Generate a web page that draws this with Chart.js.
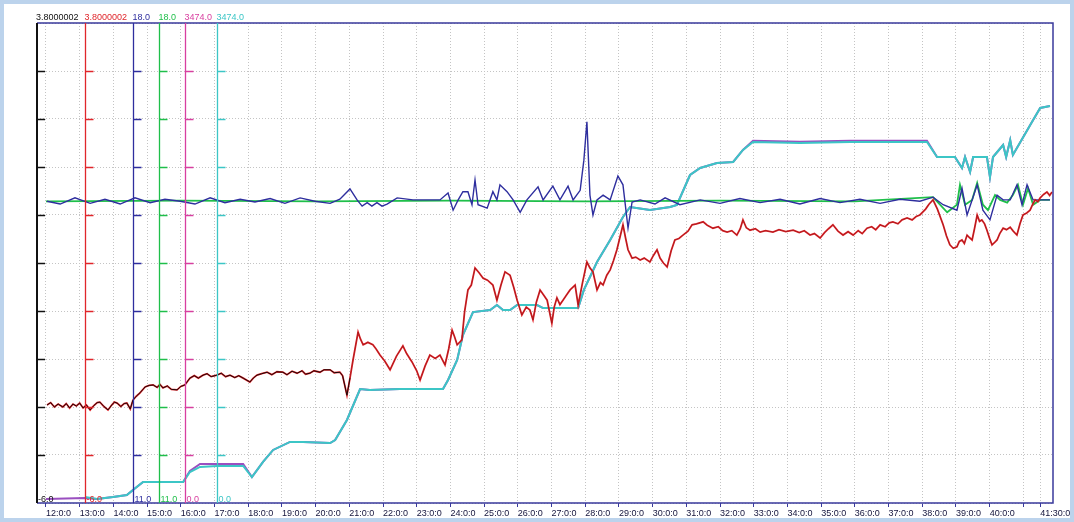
<!DOCTYPE html>
<html>
<head>
<meta charset="utf-8">
<script src="https://cdn.jsdelivr.net/npm/chart.js"></script>
<style>
html, body { margin: 0; padding: 0; background: #fff; }
#keret { position: relative; width: 1074px; height: 522px; }
</style>
</head>
<body>
<div id="keret"><canvas id="grafikon"></canvas></div>
<script>
// idő tengely: percek és a feliratok
var idoTick = [12,13,14,15,16,17,18,19,20,21,22,23,24,25,26,27,28,29,30,31,32,33,34,35,36,37,38,39,40,41,41.5];
var idoFelirat = ['12:0:0','13:0:0','14:0:0','15:0:0','16:0:0','17:0:0','18:0:0','19:0:0','20:0:0','21:0:0',
    '22:0:0','23:0:0','24:0:0','25:0:0','26:0:0','27:0:0','28:0:0','29:0:0','30:0:0','31:0:0',
    '32:0:0','33:0:0','34:0:0','35:0:0','36:0:0','37:0:0','38:0:0','39:0:0','40:0:0','','41:30:0'];

// tengelyek feliratai (felső / alsó érték)
var tengelyFelso = ['3.8000002','3.8000002','18.0','18.0','3474.0','3474.0'];
var tengelyAlso = ['-6.0','-6.0','11.0','11.0','0.0','0.0'];
var tengelyMin = [-6, -6, 11, 11, 0, 0];
var tengelyMax = [3.8000002, 3.8000002, 18, 18, 3474, 3474];

// fekete + piros görbe (ugyanaz a jel)
var homPerc = [12.03,12.14,12.25,12.36,12.50,12.60,12.70,12.80,12.90,13.00,
    13.10,13.20,13.31,13.42,13.52,13.60,13.72,13.84,13.95,14.03,
    14.11,14.22,14.32,14.40,14.50,14.58,14.68,14.79,14.94,15.06,
    15.18,15.30,15.38,15.47,15.60,15.72,15.89,16.00,16.12,16.27,
    16.40,16.52,16.66,16.78,16.90,17.07,17.20,17.33,17.46,17.60,
    17.72,17.85,18.05,18.15,18.26,18.40,18.56,18.70,18.85,19.03,
    19.15,19.30,19.45,19.60,19.70,19.83,19.95,20.13,20.25,20.43,
    20.55,20.72,20.80,20.93,21.02,21.11,21.26,21.33,21.41,21.55,
    21.70,21.80,21.91,22.05,22.21,22.40,22.59,22.70,22.86,23.00,
    23.10,23.25,23.39,23.55,23.69,23.84,23.95,24.05,24.12,24.20,
    24.34,24.42,24.52,24.62,24.73,24.85,24.97,25.10,25.26,25.38,
    25.50,25.62,25.77,25.88,25.98,26.12,26.25,26.36,26.45,26.55,
    26.66,26.76,26.87,27.01,27.08,27.16,27.25,27.34,27.45,27.55,
    27.70,27.79,27.92,28.05,28.14,28.23,28.35,28.45,28.53,28.64,
    28.74,28.84,28.94,29.04,29.12,29.20,29.27,29.39,29.50,29.63,
    29.75,29.92,30.02,30.13,30.22,30.32,30.43,30.55,30.66,30.78,
    30.90,31.05,31.17,31.30,31.50,31.62,31.79,31.95,32.08,32.21,
    32.35,32.50,32.60,32.68,32.78,32.89,33.05,33.19,33.35,33.57,
    33.75,33.95,34.17,34.35,34.50,34.67,34.80,34.97,35.10,35.22,
    35.35,35.50,35.65,35.80,35.95,36.10,36.22,36.36,36.50,36.62,
    36.75,36.90,37.02,37.13,37.28,37.40,37.55,37.70,37.82,37.93,
    38.10,38.20,38.32,38.45,38.62,38.72,38.82,38.92,39.03,39.10,
    39.18,39.25,39.33,39.40,39.48,39.55,39.63,39.70,39.77,39.85,
    39.92,40.00,40.07,40.15,40.22,40.30,40.40,40.50,40.61,40.70,
    40.81,40.90,40.99,41.10,41.20,41.28,41.35,41.43,41.50,41.60,
    41.70,41.78,41.85];
var homErtek = [-4.00,-3.95,-4.04,-3.98,-4.04,-3.97,-4.06,-3.98,-4.02,-3.96,
    -4.06,-4.00,-4.10,-4.01,-3.95,-3.94,-4.03,-4.10,-4.00,-3.94,
    -3.96,-4.03,-3.97,-3.96,-4.08,-3.90,-3.82,-3.75,-3.63,-3.60,
    -3.59,-3.64,-3.58,-3.65,-3.61,-3.68,-3.69,-3.62,-3.59,-3.45,
    -3.40,-3.45,-3.39,-3.36,-3.42,-3.39,-3.35,-3.42,-3.39,-3.44,
    -3.40,-3.45,-3.53,-3.45,-3.39,-3.36,-3.33,-3.38,-3.32,-3.33,
    -3.38,-3.31,-3.35,-3.30,-3.37,-3.35,-3.30,-3.33,-3.28,-3.28,
    -3.34,-3.33,-3.40,-3.80,-3.45,-3.08,-2.51,-2.65,-2.77,-2.72,
    -2.77,-2.86,-2.98,-3.10,-3.28,-3.00,-2.79,-2.95,-3.12,-3.30,
    -3.49,-3.20,-2.98,-3.05,-2.98,-3.18,-2.85,-2.47,-2.60,-2.77,
    -2.67,-2.10,-1.65,-1.55,-1.20,-1.30,-1.41,-1.45,-1.55,-1.86,
    -1.55,-1.28,-1.35,-1.60,-1.86,-2.16,-2.00,-2.06,-2.26,-1.90,
    -1.65,-1.75,-1.86,-2.33,-2.00,-1.81,-1.95,-1.86,-1.75,-1.65,
    -1.55,-1.96,-1.50,-1.08,-1.20,-1.28,-1.65,-1.50,-1.55,-1.35,
    -1.24,-1.05,-0.83,-0.55,-0.32,-0.60,-0.83,-1.00,-0.98,-1.04,
    -1.00,-1.08,-0.95,-0.83,-1.00,-1.10,-1.18,-0.85,-0.63,-0.60,
    -0.53,-0.45,-0.32,-0.30,-0.26,-0.33,-0.39,-0.36,-0.44,-0.47,
    -0.44,-0.53,-0.40,-0.22,-0.38,-0.43,-0.40,-0.47,-0.44,-0.47,
    -0.42,-0.46,-0.43,-0.48,-0.44,-0.53,-0.50,-0.59,-0.48,-0.40,
    -0.32,-0.45,-0.53,-0.46,-0.53,-0.44,-0.50,-0.39,-0.36,-0.42,
    -0.32,-0.36,-0.28,-0.26,-0.30,-0.22,-0.18,-0.22,-0.15,-0.12,
    0.00,0.10,0.19,0.00,-0.32,-0.55,-0.73,-0.80,-0.77,-0.66,
    -0.63,-0.70,-0.53,-0.58,-0.63,-0.40,-0.12,-0.25,-0.22,-0.30,
    -0.43,-0.60,-0.73,-0.68,-0.63,-0.50,-0.39,-0.42,-0.37,-0.45,
    -0.53,-0.30,-0.12,-0.08,-0.02,0.10,0.19,0.15,0.23,0.30,
    0.35,0.28,0.35];

// kék görbe
var kekPerc = [12.03,12.42,12.86,13.31,13.75,14.20,14.64,15.09,15.53,15.98,16.42,16.87,17.31,17.76,18.20,18.65,19.09,19.54,19.98,20.43,
    20.72,21.02,21.23,21.38,21.53,21.67,21.82,21.97,22.12,22.42,22.89,23.69,23.93,24.08,24.23,24.37,24.52,24.64,24.73,24.82,
    25.09,25.26,25.38,25.47,25.68,25.86,26.07,26.27,26.60,26.75,27.04,27.25,27.49,27.64,27.85,27.96,28.05,28.14,28.23,28.35,
    28.53,28.74,28.97,29.12,29.27,29.39,29.63,30.07,30.37,30.81,31.41,32.00,32.59,33.19,33.78,34.37,34.97,35.56,36.15,36.75,
    37.34,37.93,38.32,38.62,39.03,39.18,39.33,39.48,39.63,39.80,40.01,40.22,40.40,40.61,40.81,40.96,41.11,41.29,41.50,41.79];
var kekErtek = [15.40,15.36,15.45,15.37,15.43,15.36,15.45,15.38,15.43,15.40,15.36,15.45,15.38,15.43,15.39,15.44,15.37,15.45,15.40,15.37,
    15.43,15.58,15.42,15.33,15.38,15.33,15.38,15.33,15.36,15.45,15.42,15.42,15.52,15.27,15.42,15.54,15.54,15.35,15.71,15.35,
    15.30,15.54,15.42,15.64,15.54,15.42,15.24,15.42,15.61,15.42,15.62,15.42,15.62,15.42,15.56,16.00,16.56,15.49,15.20,15.42,
    15.49,15.42,15.77,15.64,15.01,15.39,15.42,15.36,15.45,15.35,15.42,15.37,15.44,15.38,15.43,15.36,15.44,15.38,15.43,15.37,
    15.43,15.40,15.46,15.35,15.27,15.59,15.20,15.42,15.64,15.27,15.13,15.49,15.42,15.42,15.64,15.35,15.64,15.42,15.42,15.42];

// zöld görbe
var zoldPerc = [12.00,16.00,20.00,24.00,28.00,32.00,36.00,38.32,38.74,39.03,39.12,39.27,39.48,39.63,39.80,39.95,40.16,40.31,40.52,40.69,
    40.84,40.99,41.14,41.29,41.50,41.79];
var zoldErtek = [15.40,15.41,15.40,15.41,15.40,15.41,15.40,15.46,15.24,15.35,15.64,15.35,15.42,15.67,15.35,15.27,15.49,15.42,15.38,15.49,
    15.64,15.35,15.59,15.35,15.42,15.42];

// türkiz görbe
var turkPerc = [13.16,13.51,13.99,14.40,14.58,14.88,15.09,15.47,16.07,16.27,16.57,17.07,17.85,18.11,18.44,18.74,19.24,19.63,20.43,20.58,
    20.93,21.32,21.61,22.50,23.78,23.93,24.20,24.37,24.67,25.18,25.38,25.56,25.77,25.98,26.57,26.75,27.79,27.96,28.35,28.74,
    29.12,29.33,29.92,30.52,30.72,31.11,31.41,31.91,32.39,32.68,32.98,34.37,35.86,37.34,38.14,38.44,38.97,39.18,39.27,39.42,
    39.51,39.92,40.01,40.10,40.40,40.49,40.61,40.69,41.29,41.50,41.79];
var turkErtek = [43,29,43,58,94,152,152,152,152,224,261,268,268,188,297,384,442,442,434,456,
    601,825,818,825,825,890,1035,1216,1382,1397,1433,1397,1397,1433,1433,1411,1411,1542,1744,1904,
    2070,2142,2121,2142,2157,2374,2425,2461,2468,2555,2613,2606,2613,2613,2613,2504,2504,2424,2504,2396,
    2504,2504,2359,2504,2591,2504,2627,2519,2772,2859,2873];

// lila görbe (nagyrészt a türkiz alatt)
var lilaPerc = [12.00,13.16,13.51,13.99,14.40,14.58,14.88,15.09,15.47,16.07,16.27,16.57,17.07,17.85,18.11,18.44,18.74,19.24,19.63,20.43,
    20.58,20.93,21.32,21.61,22.50,23.78,23.93,24.20,24.37,24.67,25.18,25.38,25.56,25.77,25.98,26.57,26.75,27.79,27.96,28.35,
    28.74,29.12,29.33,29.92,30.52,30.72,31.11,31.41,31.91,32.39,32.68,32.98,34.37,35.86,37.34,38.14,38.44,38.97,39.18,39.27,
    39.42,39.51,39.92,40.01,40.10,40.40,40.49,40.61,40.69,41.29,41.50,41.79];
var lilaErtek = [29,36,29,43,58,94,152,152,152,152,232,282,282,282,188,297,384,442,442,434,
    456,601,825,818,825,825,890,1035,1216,1382,1397,1433,1397,1397,1433,1433,1411,1411,1542,1744,
    1904,2070,2142,2121,2142,2157,2374,2425,2461,2468,2555,2622,2615,2622,2622,2622,2504,2504,2424,2504,
    2396,2504,2504,2359,2504,2591,2504,2627,2519,2772,2859,2873];

function pontok(perc, ertek) {
    var lista = [];
    for (var i = 0; i < perc.length; i++) {
        lista.push({ x: perc[i], y: ertek[i] });
    }
    return lista;
}

var szinek = ['#111111', '#e0262b', '#2e2e9e', '#1fbf4a', '#d83fa0', '#3cc6c6'];
var tengelyHely = [null, 13.16, 14.58, 15.35, 16.12, 17.07];
var keretSzin = '#3a3a9c';

// tengelyek, feliratok és keret rajzolása
var tengelyRajz = {
    id: 'tengelyek',
    beforeDraw: function (chart) {
        var ctx = chart.ctx;
        ctx.save();
        ctx.fillStyle = '#ffffff';
        ctx.fillRect(0, 0, chart.width, chart.height);
        ctx.strokeStyle = '#bcd3ec';
        ctx.lineWidth = 4;
        ctx.strokeRect(2, 2, chart.width - 4, chart.height - 4);
        ctx.restore();
    },
    afterDatasetsDraw: function (chart) {
        var ctx = chart.ctx;
        var ca = chart.chartArea;
        var xs = chart.scales.x;
        ctx.save();
        ctx.strokeStyle = keretSzin;
        ctx.lineWidth = 1.5;
        ctx.beginPath();
        ctx.moveTo(ca.left, ca.top);
        ctx.lineTo(ca.right, ca.top);
        ctx.lineTo(ca.right, ca.bottom);
        ctx.lineTo(ca.left, ca.bottom);
        ctx.stroke();

        ctx.font = '9px "Liberation Sans", Arial, sans-serif';
        ctx.textAlign = 'left';
        for (var i = 0; i < 6; i++) {
            var px = i == 0 ? ca.left : Math.round(xs.getPixelForValue(tengelyHely[i])) + 0.5;
            var sk = chart.scales['y' + i];
            ctx.strokeStyle = szinek[i];
            ctx.lineWidth = i == 0 ? 2 : 1.3;
            ctx.beginPath();
            ctx.moveTo(px, ca.top);
            ctx.lineTo(px, ca.bottom);
            ctx.stroke();
            // kis osztások
            ctx.lineWidth = 1.5;
            for (var k = 1; k < 10; k++) {
                var v = tengelyMin[i] + k * (tengelyMax[i] - tengelyMin[i]) / 10;
                var py = Math.round(sk.getPixelForValue(v)) + 0.5;
                ctx.beginPath();
                ctx.moveTo(px, py);
                ctx.lineTo(px + 8, py);
                ctx.stroke();
            }
            ctx.fillStyle = szinek[i];
            ctx.textBaseline = 'bottom';
            ctx.fillText(tengelyFelso[i], px - 1, ca.top - 1);
            ctx.fillText(tengelyAlso[i], px + 1, ca.bottom + 1);
        }
        ctx.restore();
    }
};

var yTengelyek = {};
for (var i = 0; i < 6; i++) {
    yTengelyek['y' + i] = { type: 'linear', display: false, min: tengelyMin[i], max: tengelyMax[i] };
}
// a fekete tengely adja a vízszintes rácsot
yTengelyek.y0 = {
    type: 'linear', display: true, min: tengelyMin[0], max: tengelyMax[0],
    afterBuildTicks: function (s) {
        var t = [];
        for (var k = 0; k <= 10; k++) t.push({ value: tengelyMin[0] + k * (tengelyMax[0] - tengelyMin[0]) / 10 });
        s.ticks = t;
    },
    afterFit: function (s) { s.width = 0; },
    ticks: { display: false },
    grid: { color: '#c4c4c4', lineWidth: 1, drawTicks: false },
    border: { display: false, dash: [1, 2] }
};

new Chart(document.getElementById('grafikon'), {
    type: 'line',
    data: {
        datasets: [
            { label: 'fekete', data: pontok(homPerc, homErtek), yAxisID: 'y0', borderColor: '#111111', borderWidth: 1,
              segment: { borderColor: function (c) { return c.p0.parsed.x < 21 ? '#1a0808' : 'rgba(70,0,0,0.3)'; } } },
            { label: 'piros', data: pontok(homPerc, homErtek), yAxisID: 'y1', borderColor: szinek[1], borderWidth: 1.8 },
            { label: 'kek', data: pontok(kekPerc, kekErtek), yAxisID: 'y2', borderColor: szinek[2], borderWidth: 1.4 },
            { label: 'zold', data: pontok(zoldPerc, zoldErtek), yAxisID: 'y3', borderColor: szinek[3], borderWidth: 1.8 },
            { label: 'turkiz', data: pontok(turkPerc, turkErtek), yAxisID: 'y5', borderColor: szinek[5], borderWidth: 2 },
            { label: 'lila', data: pontok(lilaPerc, lilaErtek), yAxisID: 'y4', borderColor: '#9a4fc0', borderWidth: 2 }
        ]
    },
    options: {
        responsive: true,
        maintainAspectRatio: false,
        animation: false,
        elements: { point: { radius: 0 }, line: { tension: 0 } },
        layout: { padding: { left: 37, top: 23, right: 21, bottom: 0 } },
        plugins: { legend: { display: false }, tooltip: { enabled: false } },
        scales: Object.assign({
            x: {
                type: 'linear',
                min: 11.733,
                max: 41.88,
                afterBuildTicks: function (s) {
                    s.ticks = idoTick.map(function (v) { return { value: v }; });
                },
                afterFit: function (s) { s.height = 19; },
                ticks: {
                    autoSkip: false, maxRotation: 0, align: 'start', padding: 1,
                    color: '#14143c',
                    font: { family: '"Liberation Sans", Arial, sans-serif', size: 9 },
                    callback: function (v, idx) { return idoFelirat[idx]; }
                },
                grid: { color: '#c4c4c4', lineWidth: 1, tickLength: 4, tickColor: keretSzin, tickWidth: 1 },
                border: { display: false, dash: [1, 2] }
            }
        }, yTengelyek)
    },
    plugins: [tengelyRajz]
});
</script>
</body>
</html>
